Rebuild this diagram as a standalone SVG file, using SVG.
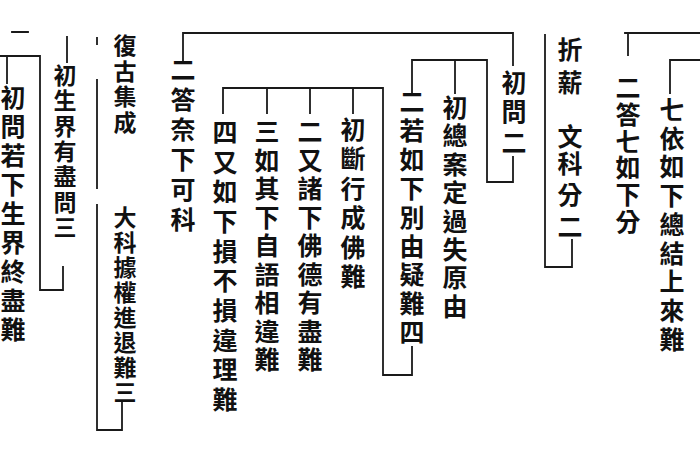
<svg xmlns="http://www.w3.org/2000/svg" width="700" height="470" viewBox="0 0 700 470">
<style>
.t{font-family:"Noto Sans CJK TC","Noto Sans CJK SC",serif;font-size:25px;font-weight:600;fill:#111;text-anchor:middle}
.s{font-size:23px}
.l{stroke:#1a1a1a;stroke-width:1.8;fill:none;stroke-linecap:square}
</style>
<rect width="700" height="470" fill="#fff"/>
<g id="connectors" class="l">
<path d="M625 33H700M628 33V55"/>
<path d="M670 93V60H700"/>
<path d="M545 35V267H572V240"/>
<path d="M183 60V33H513V65"/>
<path d="M412 95V60H487V182H513V157"/>
<path d="M455 60V93"/>
<path d="M223 113V88H383V375H412V347"/>
<path d="M353 88V113M310 88V113M267 88V113"/>
<path d="M97 38V44M97 80V188M97 205V430H122V403"/>
<path d="M12 32H28M67 37V62"/>
<path d="M0 56H40V290H63V267M7 56V83"/>
</g>
<g id="n1"><text class="t"><tspan x="672" y="119">七</tspan><tspan x="672" y="148">依</tspan><tspan x="672" y="176">如</tspan><tspan x="672" y="205">下</tspan><tspan x="672" y="234">總</tspan><tspan x="672" y="263">結</tspan><tspan x="672" y="291">上</tspan><tspan x="672" y="320">來</tspan><tspan x="672" y="349">難</tspan></text></g>
<g id="n2"><text class="t"><tspan x="628" y="97">二</tspan><tspan x="628" y="124">答</tspan><tspan x="628" y="151">七</tspan><tspan x="628" y="177">如</tspan><tspan x="628" y="204">下</tspan><tspan x="628" y="231">分</tspan></text></g>
<g id="n3"><text class="t"><tspan x="570" y="59">折</tspan><tspan x="570" y="92">薪</tspan></text><text class="t"><tspan x="570" y="146">文</tspan><tspan x="570" y="173">科</tspan><tspan x="570" y="204">分</tspan><tspan x="570" y="236">二</tspan></text></g>
<g id="n4"><text class="t"><tspan x="514" y="92">初</tspan><tspan x="514" y="121">問</tspan><tspan x="514" y="152">二</tspan></text></g>
<g id="n5"><text class="t"><tspan x="455" y="117">初</tspan><tspan x="455" y="145">總</tspan><tspan x="455" y="174">案</tspan><tspan x="455" y="202">定</tspan><tspan x="455" y="231">過</tspan><tspan x="455" y="259">失</tspan><tspan x="455" y="287">原</tspan><tspan x="455" y="316">由</tspan></text></g>
<g id="n6"><text class="t"><tspan x="412" y="111">二</tspan><tspan x="412" y="140">若</tspan><tspan x="412" y="169">如</tspan><tspan x="412" y="198">下</tspan><tspan x="412" y="227">別</tspan><tspan x="412" y="256">由</tspan><tspan x="412" y="284">疑</tspan><tspan x="412" y="313">難</tspan><tspan x="412" y="342">四</tspan></text></g>
<g id="n7"><text class="t"><tspan x="353" y="139">初</tspan><tspan x="353" y="168">斷</tspan><tspan x="353" y="198">行</tspan><tspan x="353" y="227">成</tspan><tspan x="353" y="257">佛</tspan><tspan x="353" y="286">難</tspan></text></g>
<g id="n8"><text class="t"><tspan x="310" y="141">二</tspan><tspan x="310" y="170">又</tspan><tspan x="310" y="198">諸</tspan><tspan x="310" y="227">下</tspan><tspan x="310" y="255">佛</tspan><tspan x="310" y="284">德</tspan><tspan x="310" y="312">有</tspan><tspan x="310" y="341">盡</tspan><tspan x="310" y="369">難</tspan></text></g>
<g id="n9"><text class="t"><tspan x="267" y="141">三</tspan><tspan x="267" y="170">如</tspan><tspan x="267" y="198">其</tspan><tspan x="267" y="227">下</tspan><tspan x="267" y="255">自</tspan><tspan x="267" y="284">語</tspan><tspan x="267" y="312">相</tspan><tspan x="267" y="341">違</tspan><tspan x="267" y="369">難</tspan></text></g>
<g id="n10"><text class="t"><tspan x="225" y="142">四</tspan><tspan x="225" y="172">又</tspan><tspan x="225" y="201">如</tspan><tspan x="225" y="231">下</tspan><tspan x="225" y="261">損</tspan><tspan x="225" y="290">不</tspan><tspan x="225" y="320">損</tspan><tspan x="225" y="350">違</tspan><tspan x="225" y="379">理</tspan><tspan x="225" y="409">難</tspan></text></g>
<g id="n11"><text class="t"><tspan x="183" y="79">二</tspan><tspan x="183" y="109">答</tspan><tspan x="183" y="139">奈</tspan><tspan x="183" y="169">下</tspan><tspan x="183" y="199">可</tspan><tspan x="183" y="229">科</tspan></text></g>
<g id="n12"><text class="t s"><tspan x="125" y="54">復</tspan><tspan x="125" y="80">古</tspan><tspan x="125" y="105">集</tspan><tspan x="125" y="131">成</tspan></text><text class="t s"><tspan x="125" y="226">大</tspan><tspan x="125" y="251">科</tspan><tspan x="125" y="276">據</tspan><tspan x="125" y="301">權</tspan><tspan x="125" y="326">進</tspan><tspan x="125" y="351">退</tspan><tspan x="125" y="376">難</tspan><tspan x="125" y="401">三</tspan></text></g>
<g id="n13"><text class="t s"><tspan x="65" y="84">初</tspan><tspan x="65" y="109">生</tspan><tspan x="65" y="135">界</tspan><tspan x="65" y="160">有</tspan><tspan x="65" y="185">盡</tspan><tspan x="65" y="211">問</tspan><tspan x="65" y="236">三</tspan></text></g>
<g id="n14"><text class="t"><tspan x="13" y="107">初</tspan><tspan x="13" y="136">問</tspan><tspan x="13" y="165">若</tspan><tspan x="13" y="194">下</tspan><tspan x="13" y="223">生</tspan><tspan x="13" y="252">界</tspan><tspan x="13" y="281">終</tspan><tspan x="13" y="310">盡</tspan><tspan x="13" y="339">難</tspan></text></g>
</svg>
